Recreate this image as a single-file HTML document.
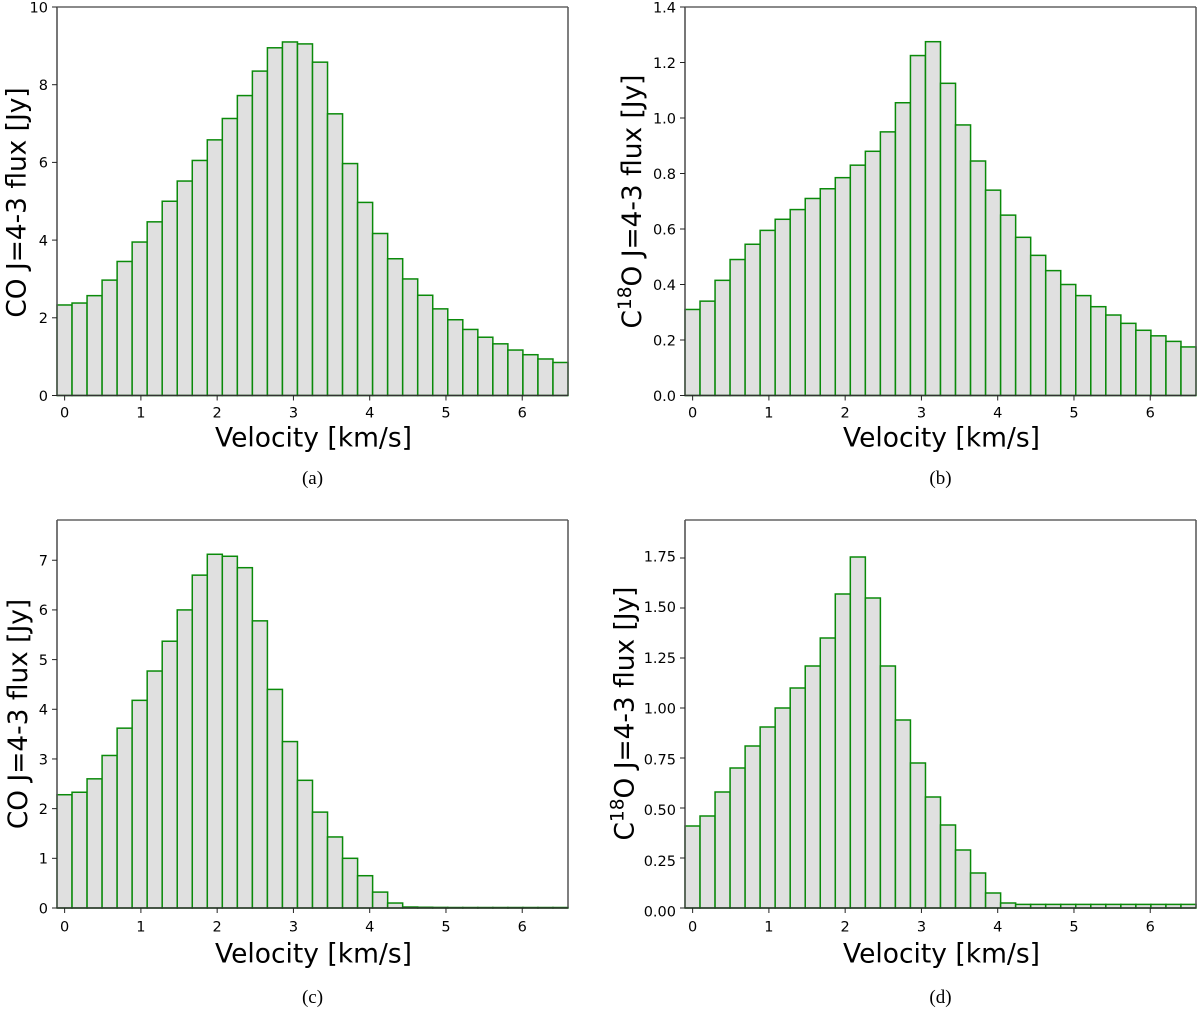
<!DOCTYPE html>
<html>
<head>
<meta charset="utf-8">
<style>
html,body{margin:0;padding:0;background:#fff;}
svg{display:block;}
text{font-family:"DejaVu Sans","Liberation Sans",sans-serif;fill:#000;}
.cap{font-family:"Liberation Serif",serif;}
</style>
</head>
<body>
<svg id="fig" xmlns="http://www.w3.org/2000/svg" width="1200" height="1013" viewBox="0 0 1200 1013"></svg>
<script>
var xTicks = [0, 1, 2, 3, 4, 5, 6];
var binStart = -0.1;
var binEnd = 6.6;

var fluxA = [2.33,2.38,2.57,2.97,3.45,3.95,4.47,5.0,5.52,6.05,6.58,7.13,7.72,8.35,8.95,9.1,9.05,8.58,7.25,5.97,4.97,4.17,3.52,3.0,2.58,2.23,1.95,1.7,1.5,1.33,1.17,1.05,0.94,0.85];
var fluxB = [0.31,0.34,0.415,0.49,0.545,0.595,0.635,0.67,0.71,0.745,0.785,0.83,0.88,0.95,1.055,1.225,1.275,1.125,0.975,0.845,0.74,0.65,0.57,0.505,0.45,0.40,0.36,0.32,0.29,0.26,0.235,0.215,0.195,0.175];
var fluxC = [2.28,2.33,2.6,3.07,3.62,4.18,4.77,5.37,6.0,6.7,7.12,7.08,6.85,5.78,4.4,3.35,2.57,1.93,1.43,1.0,0.65,0.32,0.1,0.02,0.015,0.012,0.01,0.01,0.01,0.01,0.01,0.01,0.01,0.01];
var fluxD = [0.41,0.46,0.58,0.70,0.81,0.905,1.0,1.1,1.21,1.35,1.57,1.755,1.55,1.21,0.94,0.725,0.555,0.415,0.29,0.175,0.075,0.025,0.018,0.018,0.018,0.018,0.018,0.018,0.018,0.018,0.018,0.018,0.018,0.018];

var yTicksA = [0, 2, 4, 6, 8, 10];
var yTicksB = [0, 0.2, 0.4, 0.6, 0.8, 1.0, 1.2, 1.4];
var yTicksC = [0, 1, 2, 3, 4, 5, 6, 7];
var yTicksD = [0, 0.25, 0.5, 0.75, 1.0, 1.25, 1.5, 1.75];

var yLabelsA = ["0", "2", "4", "6", "8", "10"];
var yLabelsB = ["0.0", "0.2", "0.4", "0.6", "0.8", "1.0", "1.2", "1.4"];
var yLabelsC = ["0", "1", "2", "3", "4", "5", "6", "7"];
var yLabelsD = ["0.00", "0.25", "0.50", "0.75", "1.00", "1.25", "1.50", "1.75"];

var NS = "http://www.w3.org/2000/svg";
var fig = document.getElementById("fig");

function mk(tag, attrs, parent, txt) {
  var el = document.createElementNS(NS, tag);
  for (var k in attrs) { el.setAttribute(k, attrs[k]); }
  if (txt !== undefined) { el.textContent = txt; }
  (parent || fig).appendChild(el);
  return el;
}

function drawPanel(id, box, yMax, values, yTicks, yLabels, isC18O, caption, layout) {
  var g = mk("g", {}, fig);
  
  

  function xs(v) { return box.l + (v - binStart) / (binEnd - binStart) * (box.r - box.l); }
  function ys(v) { return box.b - v / yMax * (box.b - box.t); }

  var w = (binEnd - binStart) / values.length;
  values.forEach(function (v, i) {
    var x0 = xs(binStart + i * w), x1 = xs(binStart + (i + 1) * w);
    var bar = mk("rect", {x: x0, y: ys(v), width: x1 - x0, height: box.b - ys(v), fill: "#e0e0e0", stroke: "#0a8a0a", "stroke-width": 1.5}, g);
    
    
  });

  var spineTop = mk("line", {x1: box.l, x2: box.r, y1: box.t, y2: box.t, stroke: "#444", "stroke-width": 1.3}, g);
  
  
  var spineRight = mk("line", {x1: box.r, x2: box.r, y1: box.t, y2: box.b, stroke: "#555", "stroke-width": 1.5}, g);
  
  
  var spineLeft = mk("line", {x1: box.l, x2: box.l, y1: box.t, y2: box.b, stroke: "#555", "stroke-width": 1.6}, g);
  
  
  var spineBottom = mk("line", {x1: box.l, x2: box.r, y1: box.b, y2: box.b, stroke: "#333", "stroke-width": 1.4}, g);
  
  

  xTicks.forEach(function (t) {
    var x = xs(t);
    var tick = mk("line", {x1: x, x2: x, y1: box.b, y2: box.b + 5, stroke: "#222", "stroke-width": 1}, g);
    
    
    var lab = mk("text", {x: x, y: box.b + layout.xTickGap, "text-anchor": "middle", "font-size": 14.5}, g, String(t));
    
    
  });

  var topTick = yTicks[yTicks.length - 1];
  yTicks.forEach(function (t, i) {
    var y = ys(t);
    var tick = mk("line", {x1: box.l - 5, x2: box.l, y1: y, y2: y, stroke: "#222", "stroke-width": 1}, g);
    
    
    var off = layout.yLabOff + layout.yLabDrift * (1 - t / topTick);
    var lab = mk("text", {x: box.l - 9, y: y + off, "text-anchor": "end", "font-size": 14.5}, g, yLabels[i]);
    
    
  });

  var xt = mk("text", {x: (box.l + box.r) / 2 + 1, y: box.b + layout.xTitleGap, "text-anchor": "middle", "font-size": 26.5}, g, "Velocity [km/s]");
  
  

  var yt;
  if (isC18O) {
    yt = mk("text", {transform: "translate(" + layout.yTitleX + "," + layout.yTitleCy + ") rotate(-90)", "text-anchor": "middle", "font-size": 26.4}, g);
    mk("tspan", {}, yt, "C");
    mk("tspan", {dy: -10, "font-size": 18.5}, yt, "18");
    mk("tspan", {dy: 10}, yt, "O J=4-3 flux [Jy]");
  } else {
    yt = mk("text", {transform: "translate(" + layout.yTitleX + "," + layout.yTitleCy + ") rotate(-90)", "text-anchor": "middle", "font-size": 26.4}, g, "CO J=4-3 flux [Jy]");
  }
  
  

  var cap = mk("text", {x: (box.l + box.r) / 2, y: layout.capY, "text-anchor": "middle", "font-size": 19, "class": "cap"}, g, caption);
  
  
}

drawPanel("a", {l: 57, r: 568, t: 7, b: 395.5}, 10, fluxA, yTicksA, yLabelsA, false, "(a)",
  {xTickGap: 22, xTitleGap: 51, yLabOff: 5.3, yLabDrift: 0, yTitleX: 25.5, yTitleCy: 202.5, capY: 484});
drawPanel("b", {l: 685, r: 1196, t: 7, b: 395.5}, 1.4, fluxB, yTicksB, yLabelsB, true, "(b)",
  {xTickGap: 22, xTitleGap: 51, yLabOff: 5.3, yLabDrift: 0, yTitleX: 641, yTitleCy: 201.5, capY: 484});
drawPanel("c", {l: 57, r: 568, t: 520, b: 908}, 7.81, fluxC, yTicksC, yLabelsC, false, "(c)",
  {xTickGap: 23.7, xTitleGap: 54.3, yLabOff: 5.3, yLabDrift: 0, yTitleX: 27, yTitleCy: 714, capY: 1003});
drawPanel("d", {l: 685, r: 1196, t: 520, b: 908}, 1.94, fluxD, yTicksD, yLabelsD, true, "(d)",
  {xTickGap: 23.7, xTitleGap: 54.3, yLabOff: 3.3, yLabDrift: 5.4, yTitleX: 633.5, yTitleCy: 713.5, capY: 1003});
</script>
</body>
</html>
